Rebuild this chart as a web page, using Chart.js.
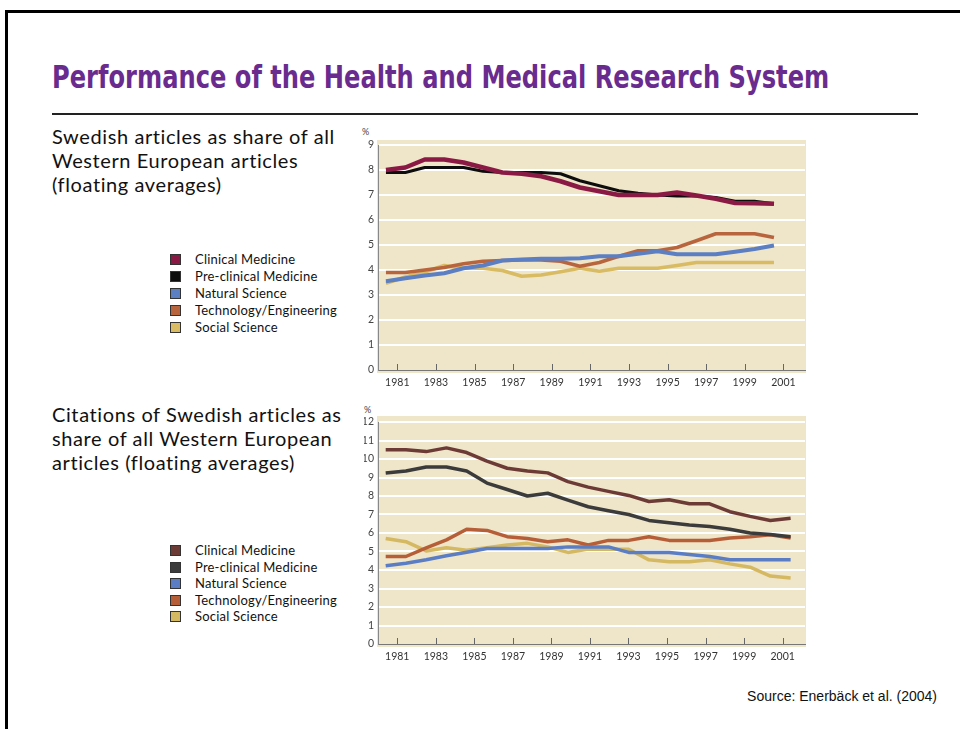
<!DOCTYPE html>
<html>
<head>
<meta charset="utf-8">
<script src="https://cdn.jsdelivr.net/npm/chart.js@4.4.0/dist/chart.umd.min.js"></script>
<style>
  body { margin: 0; width: 960px; height: 729px; background: #fff; overflow: hidden; position: relative; font-family: Lato, "Noto Sans", sans-serif; color: #111; }
  .frame { position: absolute; left: 5px; top: 10px; width: 1000px; height: 800px; border-top: 3px solid #000; border-left: 3px solid #000; }
  #title { position: absolute; left: 52px; top: 61px; font-family: "Liberation Sans Narrow", "DejaVu Sans Condensed", "Liberation Sans", sans-serif; font-weight: bold; font-size: 32px; line-height: 32px; color: #6a2b8f; white-space: nowrap; transform-origin: left top; }
  .rule { position: absolute; left: 52px; top: 113px; width: 866px; height: 2px; background: #222; }
  .sub { position: absolute; left: 52px; font-size: 20px; line-height: 24px; letter-spacing: 0.6px; }
  .legend { position: absolute; left: 170px; font-size: 13px; letter-spacing: 0.2px; }
  .legend div { height: 17px; line-height: 17px; white-space: nowrap; }
  #legend2 div { height: 16.5px; line-height: 16.5px; }
  .legend span { display: inline-block; width: 9px; height: 9px; border: 1px solid #333; margin-right: 14px; vertical-align: -1px; }
  .pct { position: absolute; font-size: 9px; color: #444; }
  canvas { position: absolute; }
  #source { position: absolute; right: 23px; top: 688px; font-family: "Liberation Sans", Arial, sans-serif; font-size: 14px; }
</style>
</head>
<body>
<div class="frame"></div>
<div id="title">Performance of the Health and Medical Research System</div>
<div class="rule"></div>

<div class="sub" style="top:124px">Swedish articles as share of all<br>Western European articles<br>(floating averages)</div>
<div class="sub" style="top:402px">Citations of Swedish articles as<br>share of all Western European<br>articles (floating averages)</div>

<div class="legend" id="legend1" style="top:251px"></div>
<div class="legend" id="legend2" style="top:542px"></div>

<div class="pct" style="left:362px; top:126px">%</div>
<div class="pct" style="left:364px; top:404px">%</div>

<canvas id="chart1" width="450" height="270" style="left:360px; top:125px"></canvas>
<canvas id="chart2" width="450" height="266" style="left:360px; top:400px"></canvas>

<div id="source">Source: Enerbäck et al. (2004)</div>

<script>
// tick labels on the year axis
const tickYears = [1981, 1983, 1985, 1987, 1989, 1991, 1993, 1995, 1997, 1999, 2001];
const fields = ["Clinical Medicine", "Pre-clinical Medicine", "Natural Science", "Technology/Engineering", "Social Science"];

// Swedish articles as share of Western European articles (%), floating averages
const artClinical    = [8.0, 8.1, 8.42, 8.42, 8.3, 8.1, 7.9, 7.85, 7.75, 7.55, 7.3, 7.15, 7.0, 7.0, 7.0, 7.1, 6.98, 6.85, 6.68, 6.67, 6.65];
const artPreclinical = [7.9, 7.9, 8.1, 8.1, 8.1, 7.95, 7.9, 7.9, 7.9, 7.85, 7.57, 7.37, 7.17, 7.07, 7.0, 6.96, 6.96, 6.9, 6.75, 6.75, 6.65];
const artNatural     = [3.55, 3.67, 3.78, 3.87, 4.07, 4.18, 4.38, 4.42, 4.45, 4.45, 4.47, 4.55, 4.55, 4.65, 4.75, 4.63, 4.63, 4.63, 4.73, 4.84, 4.98];
const artTech        = [3.9, 3.9, 4.0, 4.1, 4.25, 4.35, 4.38, 4.4, 4.4, 4.35, 4.15, 4.3, 4.55, 4.77, 4.77, 4.9, 5.17, 5.45, 5.45, 5.45, 5.3];
const artSocial      = [3.47, 3.72, 3.92, 4.18, 4.07, 4.07, 3.98, 3.75, 3.8, 3.93, 4.07, 3.95, 4.07, 4.07, 4.07, 4.18, 4.3, 4.3, 4.3, 4.3, 4.3];

// citations of Swedish articles as share of Western European citations (%)
const citClinical    = [10.5, 10.5, 10.4, 10.6, 10.35, 9.88, 9.5, 9.35, 9.25, 8.78, 8.48, 8.25, 8.03, 7.7, 7.8, 7.58, 7.58, 7.15, 6.9, 6.68, 6.8];
const citPreclinical = [9.24, 9.35, 9.57, 9.57, 9.35, 8.7, 8.35, 8.0, 8.15, 7.78, 7.42, 7.2, 7.0, 6.68, 6.55, 6.43, 6.35, 6.2, 6.0, 5.92, 5.8];
const citNatural     = [4.23, 4.36, 4.55, 4.77, 4.96, 5.16, 5.16, 5.16, 5.16, 5.25, 5.25, 5.25, 4.95, 4.95, 4.95, 4.84, 4.73, 4.55, 4.55, 4.55, 4.55];
const citTech        = [4.73, 4.73, 5.2, 5.63, 6.2, 6.14, 5.8, 5.7, 5.53, 5.63, 5.35, 5.6, 5.6, 5.8, 5.6, 5.6, 5.6, 5.73, 5.8, 5.9, 5.73];
const citSocial      = [5.7, 5.53, 5.03, 5.2, 5.07, 5.2, 5.35, 5.44, 5.25, 4.95, 5.14, 5.12, 5.12, 4.55, 4.45, 4.45, 4.55, 4.33, 4.15, 3.67, 3.57];

const colors1 = ["#8a1a44", "#0d0d0d", "#5b7fc2", "#b8653e", "#d8bb63"];
const colors2 = ["#6c3b36", "#3b3b3b", "#5a7dc4", "#b65e37", "#d5b862"];

// fit the title to its width in the slide
const title = document.getElementById("title");
title.style.transform = "scaleX(" + (777 / title.offsetWidth) + ")";

function buildLegend(id, colors) {
  const el = document.getElementById(id);
  fields.forEach((f, i) => {
    const row = document.createElement("div");
    row.innerHTML = `<span style="background:${colors[i]}"></span>${f}`;
    el.appendChild(row);
  });
}
buildLegend("legend1", colors1);
buildLegend("legend2", colors2);

const beigePlugin = {
  id: "beige",
  beforeDraw(chart, args, opts) {
    const { ctx, chartArea: a } = chart;
    ctx.save();
    ctx.fillStyle = "#efe5c9";
    ctx.fillRect(a.left - 1, a.top - opts.above, a.right - a.left + 2, a.bottom - a.top + opts.above + 3);
    ctx.restore();
  },
};

// small tick marks pointing up into the plot from the year axis
const innerTicks = {
  id: "innerTicks",
  afterDraw(chart) {
    const { ctx, chartArea: a } = chart;
    const s = chart.scales.yr;
    ctx.save();
    ctx.strokeStyle = "#666";
    ctx.lineWidth = 1;
    s.ticks.forEach((t) => {
      const x = Math.round(s.getPixelForValue(t.value)) + 0.5;
      ctx.beginPath();
      ctx.moveTo(x, a.bottom);
      ctx.lineTo(x, a.bottom - 6);
      ctx.stroke();
    });
    ctx.restore();
  },
};

function makeChart(id, series, colors, widths, opt) {
  const ctx = document.getElementById(id).getContext("2d");
  return new Chart(ctx, {
    type: "line",
    data: {
      datasets: series.map((vals, i) => ({
        label: fields[i],
        data: vals.map((v, k) => ({ x: k, y: v })),
        borderColor: colors[i],
        backgroundColor: colors[i],
        borderWidth: widths[i],
        pointRadius: 0,
        tension: 0,
        borderJoinStyle: "round",
        fill: false,
        xAxisID: "x",
      })),
    },
    options: {
      responsive: false,
      animation: false,
      devicePixelRatio: 1,
      layout: { padding: opt.padding },
      plugins: {
        legend: { display: false },
        tooltip: { enabled: false },
        beige: { above: opt.above },
      },
      scales: {
        x: { type: "linear", axis: "x", display: false, min: opt.idxMin, max: opt.idxMax },
        yr: {
          type: "linear",
          axis: "x",
          position: "bottom",
          min: opt.yrMin,
          max: opt.yrMax,
          afterBuildTicks: (s) => { s.ticks = tickYears.map((v) => ({ value: v })); },
          afterFit: (s) => { s.height = 20; },
          grid: { drawOnChartArea: false, drawTicks: false },
          border: { display: true, color: "#777", width: 1 },
          ticks: {
            autoSkip: false,
            maxRotation: 0,
            padding: 6,
            color: "#333",
            font: { family: "Lato, 'Noto Sans', sans-serif", size: 10.5 },
            callback: (v) => String(v),
          },
        },
        y: {
          min: 0,
          max: opt.yMax,
          afterFit: (s) => { s.width = 14; },
          grid: {
            color: (c) => (c.tick && c.tick.value === 0 ? "rgba(0,0,0,0)" : "#ffffff"),
            lineWidth: 2,
            drawTicks: false,
          },
          border: { display: true, color: "#888", width: 1 },
          ticks: {
            stepSize: 1,
            padding: 4,
            color: "#444",
            font: { family: "Lato, 'Noto Sans', sans-serif", size: 10.5 },
          },
        },
      },
    },
    plugins: [beigePlugin, innerTicks],
  });
}

makeChart("chart1", [artClinical, artPreclinical, artNatural, artTech, artSocial], colors1, [4.5, 3, 4, 3.5, 3.5], {
  padding: { left: 4, right: 5, top: 20, bottom: 5 },
  above: 5,
  yMax: 9,
  idxMin: -0.41,
  idxMax: 21.6,
  yrMin: 1980.0,
  yrMax: 2002.12,
});

makeChart("chart2", [citClinical, citPreclinical, citNatural, citTech, citSocial], colors2, [3.5, 3.5, 3.5, 3.5, 3.5], {
  padding: { left: 4, right: 5, top: 22, bottom: 2 },
  above: 6,
  yMax: 12,
  idxMin: -0.38,
  idxMax: 20.71,
  yrMin: 1980.0,
  yrMax: 2002.16,
});
</script>
</body>
</html>
